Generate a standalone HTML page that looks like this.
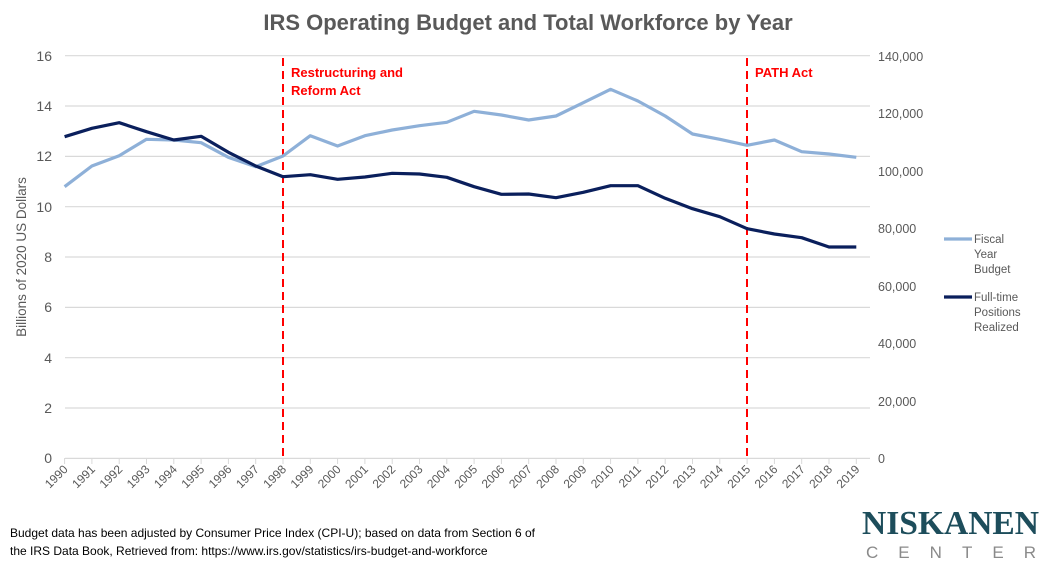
<!DOCTYPE html>
<html><head><style>
body{margin:0;background:#fff;}
svg{display:block;font-family:"Liberation Sans",Arial,sans-serif;}
</style></head><body>
<svg width="1039" height="567" viewBox="0 0 1039 567">
<text x="528" y="30" text-anchor="middle" font-size="22" font-weight="bold" fill="#595959">IRS Operating Budget and Total Workforce by Year</text>
<g stroke="#d9d9d9" stroke-width="1.2">
<line x1="65" y1="55.7" x2="870" y2="55.7"/><line x1="65" y1="106" x2="870" y2="106"/>
<line x1="65" y1="156.4" x2="870" y2="156.4"/><line x1="65" y1="206.7" x2="870" y2="206.7"/>
<line x1="65" y1="257" x2="870" y2="257"/><line x1="65" y1="307.4" x2="870" y2="307.4"/>
<line x1="65" y1="357.7" x2="870" y2="357.7"/><line x1="65" y1="408" x2="870" y2="408"/>
<line x1="65" y1="458.4" x2="870" y2="458.4"/>
</g>
<g stroke="#d9d9d9" stroke-width="1" id="ticks"></g>
<g font-size="14" fill="#595959" text-anchor="end">
<text x="52" y="61">16</text><text x="52" y="111">14</text><text x="52" y="161">12</text><text x="52" y="212">10</text>
<text x="52" y="262">8</text><text x="52" y="312">6</text><text x="52" y="363">4</text><text x="52" y="413">2</text><text x="52" y="463">0</text>
</g>
<g font-size="12.5" fill="#595959">
<text x="878" y="61">140,000</text><text x="878" y="118">120,000</text><text x="878" y="176">100,000</text>
<text x="878" y="233">80,000</text><text x="878" y="291">60,000</text><text x="878" y="348">40,000</text>
<text x="878" y="406">20,000</text><text x="878" y="463">0</text>
</g>
<text transform="translate(26,257) rotate(-90)" text-anchor="middle" font-size="13.5" fill="#595959">Billions of 2020 US Dollars</text>
<g id="xl" font-size="12" fill="#595959"></g>
<line x1="283" y1="58" x2="283" y2="458" stroke="#ff0000" stroke-width="2" stroke-dasharray="8,5"/>
<line x1="747" y1="58" x2="747" y2="458" stroke="#ff0000" stroke-width="2" stroke-dasharray="8,5"/>
<g font-size="13" font-weight="bold" fill="#ff0000">
<text x="291" y="77">Restructuring and</text><text x="291" y="95">Reform Act</text>
<text x="755" y="77">PATH Act</text>
</g>
<polyline fill="none" stroke="#8eb0d8" stroke-width="3.2" stroke-linejoin="round" points="64.6,186.7 91.9,166 119.2,155.7 146.5,139.3 173.8,140 201.1,142.7 228.4,157.3 255.7,166.7 283,156 310.3,135.7 337.6,146 364.9,135.7 392.2,130 419.5,125.7 446.8,122.3 474.1,111.3 501.4,115 528.7,120 556,116 583.3,102.7 610.6,89.3 637.9,101 665.2,116 692.5,134 719.8,139.3 747.1,145.3 774.4,140 801.7,151.7 829,154 856.3,157.3"/>
<polyline fill="none" stroke="#0a1f5c" stroke-width="3.2" stroke-linejoin="round" points="64.6,136.7 91.9,128.3 119.2,122.7 146.5,131.7 173.8,140 201.1,136.3 228.4,152.3 255.7,166 283,176.7 310.3,174.7 337.6,179.3 364.9,177 392.2,173.3 419.5,174 446.8,177.3 474.1,186.7 501.4,194.3 528.7,194 556,197.7 583.3,192.3 610.6,185.7 637.9,185.7 665.2,198.3 692.5,208.7 719.8,216.7 747.1,228.7 774.4,234 801.7,237.7 829,247 856.3,247"/>
<line x1="944" y1="239" x2="972" y2="239" stroke="#8eb0d8" stroke-width="3.2"/>
<line x1="944" y1="297" x2="972" y2="297" stroke="#0a1f5c" stroke-width="3.2"/>
<g font-size="11.5" fill="#595959">
<text x="974" y="243">Fiscal</text><text x="974" y="258">Year</text><text x="974" y="273">Budget</text>
<text x="974" y="301">Full-time</text><text x="974" y="316">Positions</text><text x="974" y="331">Realized</text>
</g>
<g font-size="12" fill="#000">
<text x="10" y="537">Budget data has been adjusted by Consumer Price Index (CPI-U); based on data from Section 6 of</text>
<text x="10" y="555">the IRS Data Book, Retrieved from: https://www.irs.gov/statistics/irs-budget-and-workforce</text>
</g>
<text x="862" y="534" font-family="Liberation Serif,serif" font-weight="bold" font-size="34" fill="#1d4d5b" textLength="177" lengthAdjust="spacingAndGlyphs">NISKANEN</text>
<text x="866" y="558" font-size="17" fill="#8a8a8a" textLength="170" lengthAdjust="spacing">CENTER</text>
<script>
var t=document.getElementById('ticks'),xl=document.getElementById('xl'),ns='http://www.w3.org/2000/svg';
for(var i=0;i<30;i++){var x=64.6+i*27.3;
var l=document.createElementNS(ns,'line');l.setAttribute('x1',x);l.setAttribute('x2',x);l.setAttribute('y1',458);l.setAttribute('y2',464);t.appendChild(l);
var tx=document.createElementNS(ns,'text');tx.setAttribute('text-anchor','end');tx.setAttribute('transform','translate('+(x+4)+',470) rotate(-45)');tx.textContent=1990+i;xl.appendChild(tx);}
</script>
</svg>
</body></html>
